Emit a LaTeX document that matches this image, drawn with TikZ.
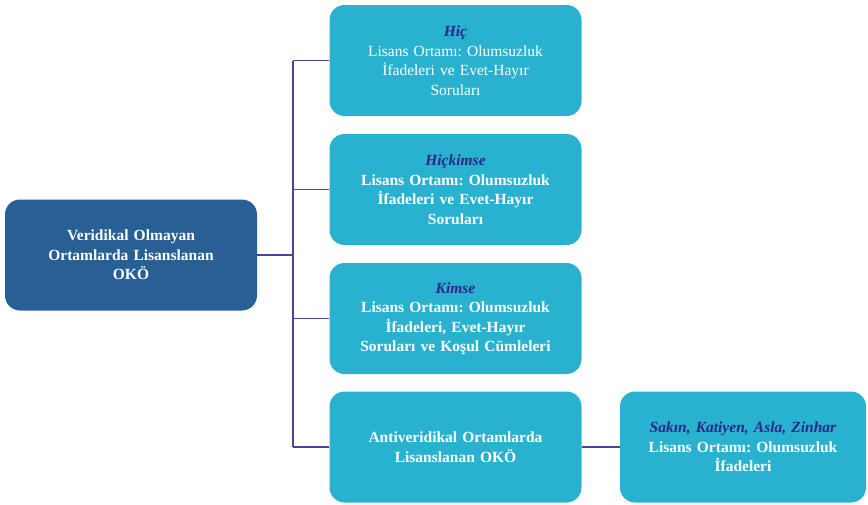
\documentclass[tikz,border=0pt]{standalone}
\usepackage{fontspec}
\setmainfont{Liberation Serif}
\frenchspacing
\definecolor{rootblue}{RGB}{40,96,150}
\definecolor{leafcyan}{RGB}{41,178,207}
\definecolor{linkpurple}{RGB}{76,66,156}
\definecolor{headblue}{RGB}{40,40,140}

\begin{document}
\begin{tikzpicture}[
    x=1pt, y=-1pt,
    every node/.style={font=\fontsize{15.5}{19.5}\selectfont},
    box/.style={rounded corners=15pt, minimum width=252pt, minimum height=111pt,
        text width=230pt, align=center, text=white, inner sep=0pt},
    rootbox/.style={box, fill=rootblue, font=\fontsize{15.5}{19.5}\selectfont\bfseries},
    leafbox/.style={box, fill=leafcyan},
    link/.style={draw=linkpurple, line width=1.2pt}
]
\useasboundingbox (0,0) rectangle (868,504);

% root on the left
\node[rootbox] (root) at (131,255) {Veridikal Olmayan\\Ortamlarda Lisanslanan\\OKÖ};

% right column
\node[leafbox] (hic) at (455.5,60.5)
    {\textcolor{headblue}{\textbf{\textit{Hiç}}}\\Lisans Ortamı: Olumsuzluk\\İfadeleri ve Evet-Hayır\\Soruları};
\node[leafbox, font=\fontsize{15.5}{19.5}\selectfont\bfseries] (hickimse) at (455.5,189.5)
    {\textcolor{headblue}{\textit{Hiçkimse}}\\Lisans Ortamı: Olumsuzluk\\İfadeleri ve Evet-Hayır\\Soruları};
\node[leafbox, font=\fontsize{15.5}{19.5}\selectfont\bfseries] (kimse) at (455.5,318.5)
    {\textcolor{headblue}{\textit{Kimse}}\\Lisans Ortamı: Olumsuzluk\\İfadeleri, Evet-Hayır\\Soruları ve Koşul Cümleleri};
\node[leafbox, font=\fontsize{15.5}{19.5}\selectfont\bfseries] (anti) at (455.5,447)
    {Antiveridikal Ortamlarda\\Lisanslanan OKÖ};

% far right
\node[leafbox, minimum width=246pt, font=\fontsize{15.5}{19.5}\selectfont\bfseries] (sakin) at (743,447)
    {\textcolor{headblue}{\textit{Sakın, Katiyen, Asla, Zinhar}}\\Lisans Ortamı: Olumsuzluk\\İfadeleri};

% connectors
\coordinate (trunk) at (293,255);
\draw[link] (root.east) -- (trunk);
\draw[link] (trunk |- hic.west) -- (trunk |- anti.west);
\foreach \n in {hic, hickimse, kimse, anti}
    \draw[link] (trunk |- \n.west) -- (\n.west);
\draw[link] (anti.east) -- (sakin.west);

\end{tikzpicture}
\end{document}
